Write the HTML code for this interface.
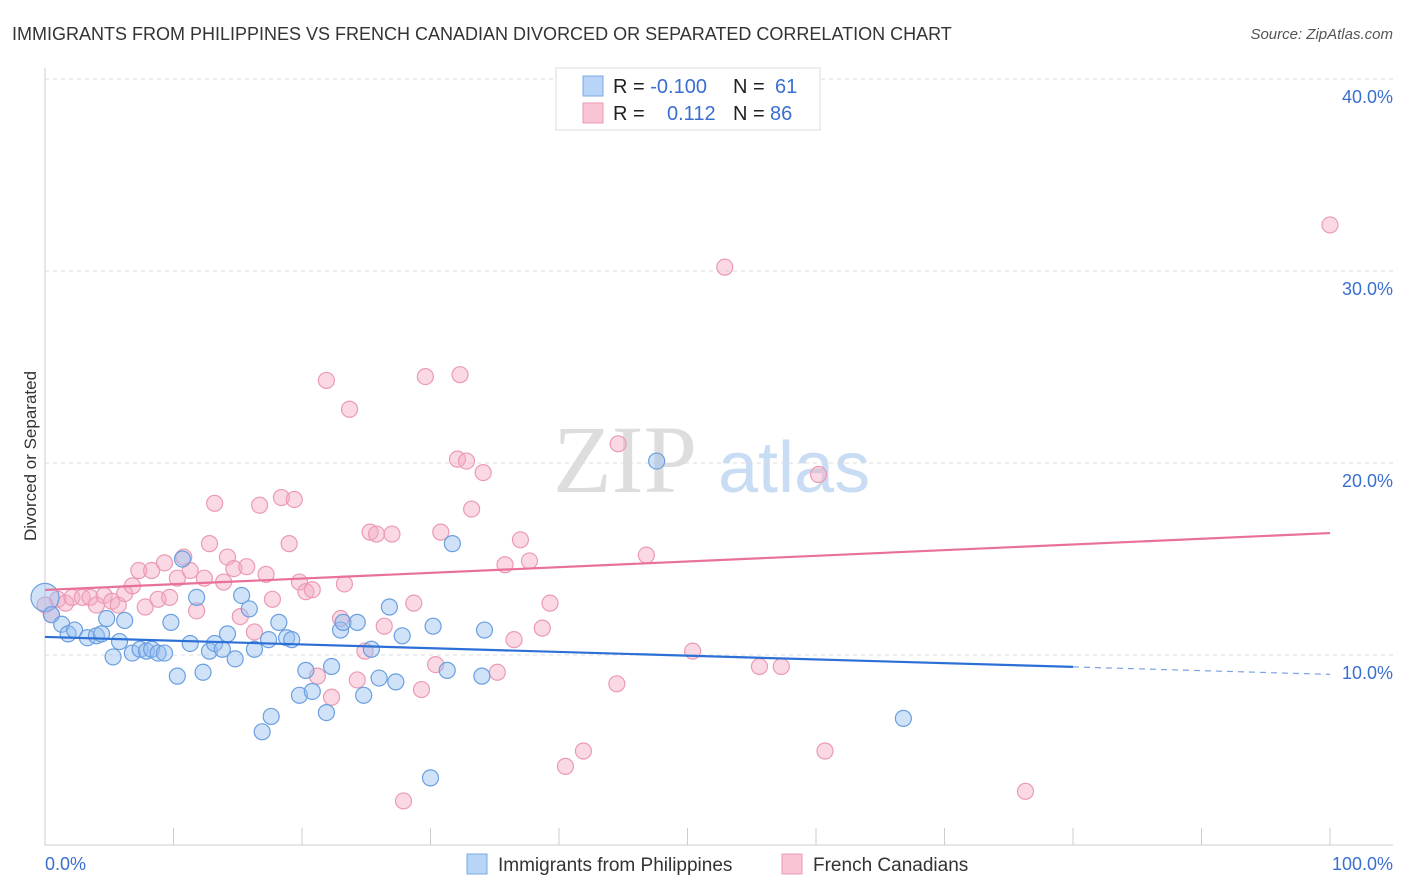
<!DOCTYPE html>
<html><head><meta charset="utf-8"><style>
body{margin:0;background:#fff;font-family:"Liberation Sans",sans-serif;}
svg{display:block}
</style></head><body>
<svg id="c" width="1406" height="892" xmlns="http://www.w3.org/2000/svg">
<text x="12" y="40" font-size="18" fill="#333">IMMIGRANTS FROM PHILIPPINES VS FRENCH CANADIAN DIVORCED OR SEPARATED CORRELATION CHART</text>
<text x="1393" y="39" font-size="15" fill="#555" font-style="italic" text-anchor="end">Source: ZipAtlas.com</text>
<text x="36" y="456" font-size="17" fill="#333" text-anchor="middle" transform="rotate(-90 36 456)">Divorced or Separated</text>
<g><text x="553" y="492" font-size="96" font-family="Liberation Serif,serif" fill="#ddd">ZIP</text><text x="718" y="492" font-size="72" fill="#c8dcf3">atlas</text></g>
<g id="grid"></g><g id="pts"></g><g id="trend"></g>
<g>
<rect x="556" y="68" width="264" height="62" fill="#fff" stroke="#ddd"/>
<rect x="583" y="76" width="20" height="20" fill="#b8d4f6" stroke="#7aaae6"/>
<rect x="583" y="103" width="20" height="20" fill="#f9c4d4" stroke="#eb9ab5"/>
<text x="613" y="93" font-size="20" fill="#222">R = <tspan fill="#3a6fd0">-0.100</tspan><tspan x="733">N = </tspan><tspan x="775" fill="#3a6fd0">61</tspan></text>
<text x="613" y="120" font-size="20" fill="#222">R = <tspan x="667" fill="#3a6fd0">0.112</tspan><tspan x="733">N = </tspan><tspan x="770" fill="#3a6fd0">86</tspan></text>
</g>
<g>
<rect x="467" y="854" width="20" height="20" fill="#b8d4f6" stroke="#7aaae6"/>
<text x="498" y="871" font-size="19" fill="#333">Immigrants from Philippines</text>
<rect x="782" y="854" width="20" height="20" fill="#f9c4d4" stroke="#eb9ab5"/>
<text x="813" y="871" font-size="19" fill="#333">French Canadians</text>
</g>
<text x="45" y="870" font-size="18" fill="#3a6fd0">0.0%</text>
<text x="1393" y="870" font-size="18" fill="#3a6fd0" text-anchor="end">100.0%</text>
</svg>
<script>
const yTicks=[10,20,30,40];
const xTicks=[0,10,20,30,40,50,60,70,80,90,100];
const blueX=[0,0.5,1.3,1.8,2.3,3.3,4.0,4.4,4.8,5.3,5.8,6.2,6.8,7.4,7.9,8.3,8.8,9.3,9.8,10.3,10.7,11.3,11.8,12.3,12.8,13.2,13.8,14.2,14.8,15.3,15.9,16.3,16.9,17.4,17.6,18.2,18.8,19.2,19.8,20.3,20.8,21.9,22.3,23.0,23.2,24.3,24.8,25.4,26.0,26.8,27.3,27.8,30.0,30.2,31.3,31.7,34.0,34.2,47.6,66.8];
const blueY=[13.0,12.1,11.6,11.1,11.3,10.9,11.0,11.1,11.9,9.9,10.7,11.8,10.1,10.3,10.2,10.3,10.1,10.1,11.7,8.9,15.0,10.6,13.0,9.1,10.2,10.6,10.3,11.1,9.8,13.1,12.4,10.3,6.0,10.8,6.8,11.7,10.9,10.8,7.9,9.2,8.1,7.0,9.4,11.3,11.7,11.7,7.9,10.3,8.8,12.5,8.6,11.0,3.6,11.5,9.2,15.8,8.9,11.3,20.1,6.7];
const pinkX=[0,0.5,1.0,1.6,2.1,2.9,3.5,4.0,4.6,5.2,5.7,6.2,6.8,7.3,7.8,8.3,8.8,9.3,9.7,10.3,10.8,11.3,11.8,12.4,12.8,13.2,13.9,14.2,14.7,15.2,15.7,16.3,16.7,17.2,17.7,18.4,19.0,19.4,19.8,20.3,20.8,21.2,21.9,22.3,23.0,23.3,23.7,24.3,24.9,25.3,25.8,26.4,27.0,27.9,28.7,29.3,29.6,30.4,30.8,32.1,32.3,32.8,33.2,34.1,35.2,35.8,36.5,37.0,37.7,38.7,39.3,40.5,41.9,44.5,44.6,46.8,50.4,52.9,55.6,57.3,60.2,60.7,76.3,100];
const pinkY=[12.6,12.1,12.9,12.7,13.0,13.0,13.0,12.6,13.1,12.8,12.6,13.2,13.6,14.4,12.5,14.4,12.9,14.8,13.0,14.0,15.1,14.4,12.3,14.0,15.8,17.9,13.8,15.1,14.5,12.0,14.6,11.2,17.8,14.2,12.9,18.2,15.8,18.1,13.8,13.3,13.4,8.9,24.3,7.8,11.9,13.7,22.8,8.7,10.2,16.4,16.3,11.5,16.3,2.4,12.7,8.2,24.5,9.5,16.4,20.2,24.6,20.1,17.6,19.5,9.1,14.7,10.8,16.0,14.9,11.4,12.7,4.2,5.0,8.5,21.0,15.2,10.2,30.2,9.4,9.4,19.4,5.0,2.9,32.4];
const blueTrend=[10.94,-0.0195];
const pinkTrend=[13.39,0.0296];
const NS='http://www.w3.org/2000/svg';
const X=v=>45+v*12.85, Y=v=>655-(v-10)*19.2;
function mk(t,a,p){const e=document.createElementNS(NS,t);for(const k in a)e.setAttribute(k,a[k]);p.appendChild(e);return e;}
const grid=document.getElementById('grid');
yTicks.forEach(t=>{
 const l=mk('line',{x1:45,x2:1393,y1:Y(t),y2:Y(t),stroke:'#ddd','stroke-dasharray':'4,4'},grid);
 
 
 const tx=mk('text',{x:1393,y:Y(t)+24,'font-size':18,fill:'#3a6fd0','text-anchor':'end'},grid);
 tx.textContent=t.toFixed(1)+'%';
 
 
});
const ax=mk('path',{d:'M45 68V845H1393',fill:'none',stroke:'#ccc'},grid);


xTicks.forEach(t=>{
 const l=mk('line',{x1:X(t),x2:X(t),y1:828,y2:845,stroke:'#ccc'},grid);
 
 
});
const pts=document.getElementById('pts');
pinkX.forEach((x,i)=>{
 const c=mk('circle',{cx:X(x),cy:Y(pinkY[i]),r:8,fill:'rgba(244,170,196,0.45)',stroke:'#eb9ab5','stroke-width':1.2},pts);
 
 
});
blueX.forEach((x,i)=>{
 const c=mk('circle',{cx:X(x),cy:Y(blueY[i]),r:i===0?14:8,fill:'rgba(150,190,240,0.45)',stroke:'#6a9fe0','stroke-width':1.2},pts);
 
 
});
const tr=document.getElementById('trend');
const bf=x=>blueTrend[0]+blueTrend[1]*x, pf=x=>pinkTrend[0]+pinkTrend[1]*x;
const b1=mk('line',{x1:X(0),y1:Y(bf(0)),x2:X(80),y2:Y(bf(80)),stroke:'#2c6fd6','stroke-width':2.2},tr);


const b2=mk('line',{x1:X(80),y1:Y(bf(80)),x2:X(100),y2:Y(bf(100)),stroke:'#7aa4e0','stroke-width':1.2,'stroke-dasharray':'6,5'},tr);


const p1=mk('line',{x1:X(0),y1:Y(pf(0)),x2:X(100),y2:Y(pf(100)),stroke:'#e8709a','stroke-width':2.2},tr);


</script>
</body></html>
